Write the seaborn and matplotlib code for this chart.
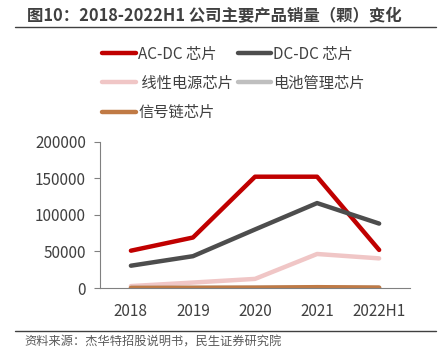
import matplotlib
matplotlib.use("Agg")
import matplotlib.pyplot as plt
import seaborn as sns
import pandas as pd
from matplotlib.lines import Line2D

categories = ["2018", "2019", "2020", "2021", "2022H1"]
acdc = [51000, 69000, 152000, 152000, 52000]
dcdc = [30500, 43500, 80000, 116000, 88000]
linear = [2700, 7500, 12500, 46500, 40500]
battery = [300, 400, 600, 900, 500]
signal = [200, 300, 500, 1200, 600]
series_names = ["AC-DC 芯片", "DC-DC 芯片", " 线性电源芯片", "电池管理芯片", "信号链芯片"]
y_ticks = [0, 50000, 100000, 150000, 200000]

title = "图10：2018-2022H1 公司主要产品销量（颗）变化"
source = "资料来源：杰华特招股说明书，民生证券研究院"

sns.set_theme(style="white")
plt.rcParams['font.family'] = ['Noto Sans CJK SC', 'DejaVu Sans']

colors = ["#C00000", "#4D4D4D", "#F0C6C6", "#BFBFBF", "#C07A45"]

rows = []
for name, vals in zip(series_names, [acdc, dcdc, linear, battery, signal]):
    for c, v in zip(categories, vals):
        rows.append({"cat": c, "val": v, "series": name})
df = pd.DataFrame(rows)

fig = plt.figure(figsize=(4.42, 3.53), dpi=100)
ax = fig.add_axes([0.226, 0.184, 0.702, 0.415])

sns.lineplot(data=df, x="cat", y="val", hue="series", hue_order=series_names,
             palette=colors, linewidth=3.2, ax=ax, legend=False, sort=False)

ax.set_xlim(-0.5, 4.5)
ax.set_ylim(0, 200000)
ax.set_yticks(y_ticks)
ax.set_yticklabels([str(v) for v in y_ticks], fontsize=11, color="#404040")
ax.set_xticks(range(len(categories)))
ax.set_xticklabels(categories, fontsize=11, color="#404040")
ax.set_xticks([i - 0.5 for i in range(len(categories) + 1)], minor=True)
ax.tick_params(axis="x", which="major", length=0, pad=11)
ax.tick_params(axis="x", which="minor", length=4, color="#808080", width=0.8, direction="out")
ax.tick_params(axis="y", which="major", length=4, color="#808080", width=0.8, direction="out", left=True, pad=6)
ax.set_xlabel("")
ax.set_ylabel("")
for s in ["top", "right"]:
    ax.spines[s].set_visible(False)
for s in ["left", "bottom"]:
    ax.spines[s].set_color("#808080")
    ax.spines[s].set_linewidth(0.8)
ax.grid(False)

handles = [Line2D([0], [0], color=c, lw=3.2) for c in colors]
order = [0, 2, 4, 1, 3]
fig.legend([handles[i] for i in order], [series_names[i] for i in order],
           ncol=2, loc="upper left", bbox_to_anchor=(0.2, 0.91),
           frameon=False, fontsize=11, handlelength=2.2, handletextpad=0.15,
           columnspacing=0.3, labelspacing=0.8, labelcolor="#404040")

fig.text(0.06, 0.955, title, fontsize=11.8, fontweight="bold", color="#404040",
         ha="left", va="center")
fig.add_artist(Line2D([0.034, 0.986], [0.923, 0.923], transform=fig.transFigure,
                      color="#404040", lw=1.0))
fig.add_artist(Line2D([0.034, 0.986], [0.063, 0.063], transform=fig.transFigure,
                      color="#404040", lw=1.0))
fig.text(0.055, 0.03, source, fontsize=8.8, color="#595959", ha="left", va="center")

fig.savefig("out.png", dpi=100)
